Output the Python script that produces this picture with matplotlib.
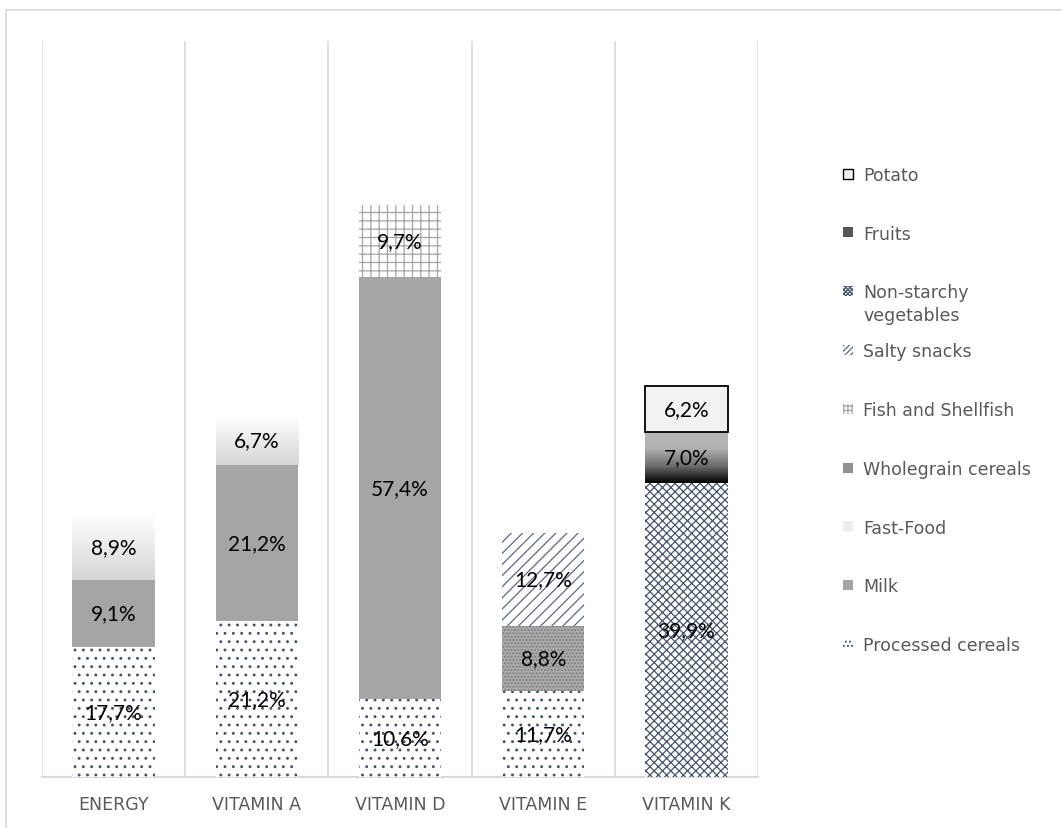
import numpy as np
import matplotlib.pyplot as plt
from matplotlib.patches import Rectangle
from matplotlib.colors import LinearSegmentedColormap

# données (% de contribution par groupe d'aliments)
categories = ['ENERGY', 'VITAMIN A', 'VITAMIN D', 'VITAMIN E', 'VITAMIN K']
processed_cereals = [17.7, 21.2, 10.6, 11.7, 0]
milk = [9.1, 21.2, 57.4, 0, 0]
fast_food = [8.9, 6.7, 0, 0, 0]
wholegrain = [0, 0, 0, 8.8, 0]
fish = [0, 0, 9.7, 0, 0]
salty = [0, 0, 0, 12.7, 0]
non_starchy = [0, 0, 0, 0, 39.9]
fruits = [0, 0, 0, 0, 7.0]
potato = [0, 0, 0, 0, 6.2]

series_names = ['Processed cereals', 'Milk', 'Fast-Food', 'Wholegrain cereals',
                'Fish and Shellfish', 'Salty snacks', 'Non-starchy\nvegetables',
                'Fruits', 'Potato']
series_vals = [processed_cereals, milk, fast_food, wholegrain, fish, salty,
               non_starchy, fruits, potato]

navy = '#44546A'
styles = [
    dict(facecolor='white', edgecolor=navy, hatch='..', linewidth=0),
    dict(facecolor='#A5A5A5', edgecolor='#A5A5A5', linewidth=0),
    dict(facecolor='none', edgecolor='none', linewidth=0),              # degradé
    dict(facecolor='#ABABAB', edgecolor='#7A7A7A', hatch='.....', linewidth=0),
    dict(facecolor='white', edgecolor='#A5A5A5', hatch='++', linewidth=0),
    dict(facecolor='white', edgecolor='#5A6A85', hatch='///', linewidth=0),
    dict(facecolor='white', edgecolor=navy, hatch='xxxx', linewidth=0),
    dict(facecolor='none', edgecolor='none', linewidth=0),              # degradé
    dict(facecolor='#F2F2F0', edgecolor='black', linewidth=1.3),
]
gradients = {2: LinearSegmentedColormap.from_list('ff', ['#D6D6D6', '#FFFFFF']),
             7: LinearSegmentedColormap.from_list('fr', ['#000000', '#6E6E6E', '#B0B0B0', '#B8B8B8'])}
legend_colors = {2: '#EDEDED', 7: '#555555'}

plt.rcParams['font.family'] = ['DejaVu Sans']
plt.rcParams['hatch.linewidth'] = 0.9

W, H = 1062, 829
fig = plt.figure(figsize=(W / 100, H / 100), dpi=100)
fig.patches.append(Rectangle((6 / W, -0.05), 1.0, 1.05 - 11 / H,
                             transform=fig.transFigure, facecolor='none',
                             edgecolor='#D9D9D9', linewidth=1.2))
ax = fig.add_axes([42 / W, 1 - 778 / H, (758 - 42) / W, (778 - 42) / H])

x = np.arange(len(categories))
width = 0.575
bottom = np.zeros(len(categories))
for i, (name, vals) in enumerate(zip(series_names, series_vals)):
    vals = np.array(vals, dtype=float)
    idx = np.nonzero(vals)[0]
    bars = ax.bar(x[idx], vals[idx], width, bottom=bottom[idx], zorder=3, **styles[i])
    if i in gradients:
        grad = np.linspace(0, 1, 256).reshape(-1, 1)
        for b in bars:
            x0, y0 = b.get_x(), b.get_y()
            im = ax.imshow(grad, extent=[x0, x0 + b.get_width(), y0, y0 + b.get_height()],
                           origin='lower', aspect='auto', cmap=gradients[i], zorder=2.5)
            im.set_clip_path(b)
    for j in idx:
        ax.text(x[j], bottom[j] + vals[j] / 2, f'{vals[j]:.1f}%'.replace('.', ','),
                ha='center', va='center', fontsize=15, family='Lato',
                color='black', zorder=5)
    bottom = bottom + vals

ax.set_xlim(-0.5, len(categories) - 0.5)
ax.set_ylim(0, 100)
for xv in np.arange(-0.5, len(categories), 1):
    ax.axvline(xv, color='#D9D9D9', linewidth=1.2, zorder=1)
for s in ['top', 'left', 'right']:
    ax.spines[s].set_visible(False)
ax.spines['bottom'].set_color('#D9D9D9')
ax.spines['bottom'].set_linewidth(1.5)
ax.set_yticks([])
ax.set_xticks(x)
ax.set_xticklabels(categories, fontsize=12.5, color='#595959')
ax.tick_params(axis='x', length=0, pad=13)

# légende (ordre inversé, à droite)
leg_fs = 12.5
for k, i in enumerate(range(len(series_names) - 1, -1, -1)):
    yc = 174.5 + 58.8 * k
    st = dict(styles[i])
    if i in legend_colors:
        st['facecolor'] = legend_colors[i]
    if 'hatch' in st:
        st['hatch'] = st['hatch'] * 2   # plus dense pour les petits carrés
    st['linewidth'] = 1.0 if i == 8 else 0
    fig.patches.append(Rectangle((843 / W, 1 - (yc + 5) / H), 10 / W, 10 / H,
                                 transform=fig.transFigure, **st))
    for n, line in enumerate(series_names[i].split('\n')):
        fig.text(863 / W, 1 - (yc + 6.3 + 23 * n) / H, line, fontsize=leg_fs,
                 color='#595959', va='baseline', ha='left')

fig.savefig('out.png', dpi=100)
